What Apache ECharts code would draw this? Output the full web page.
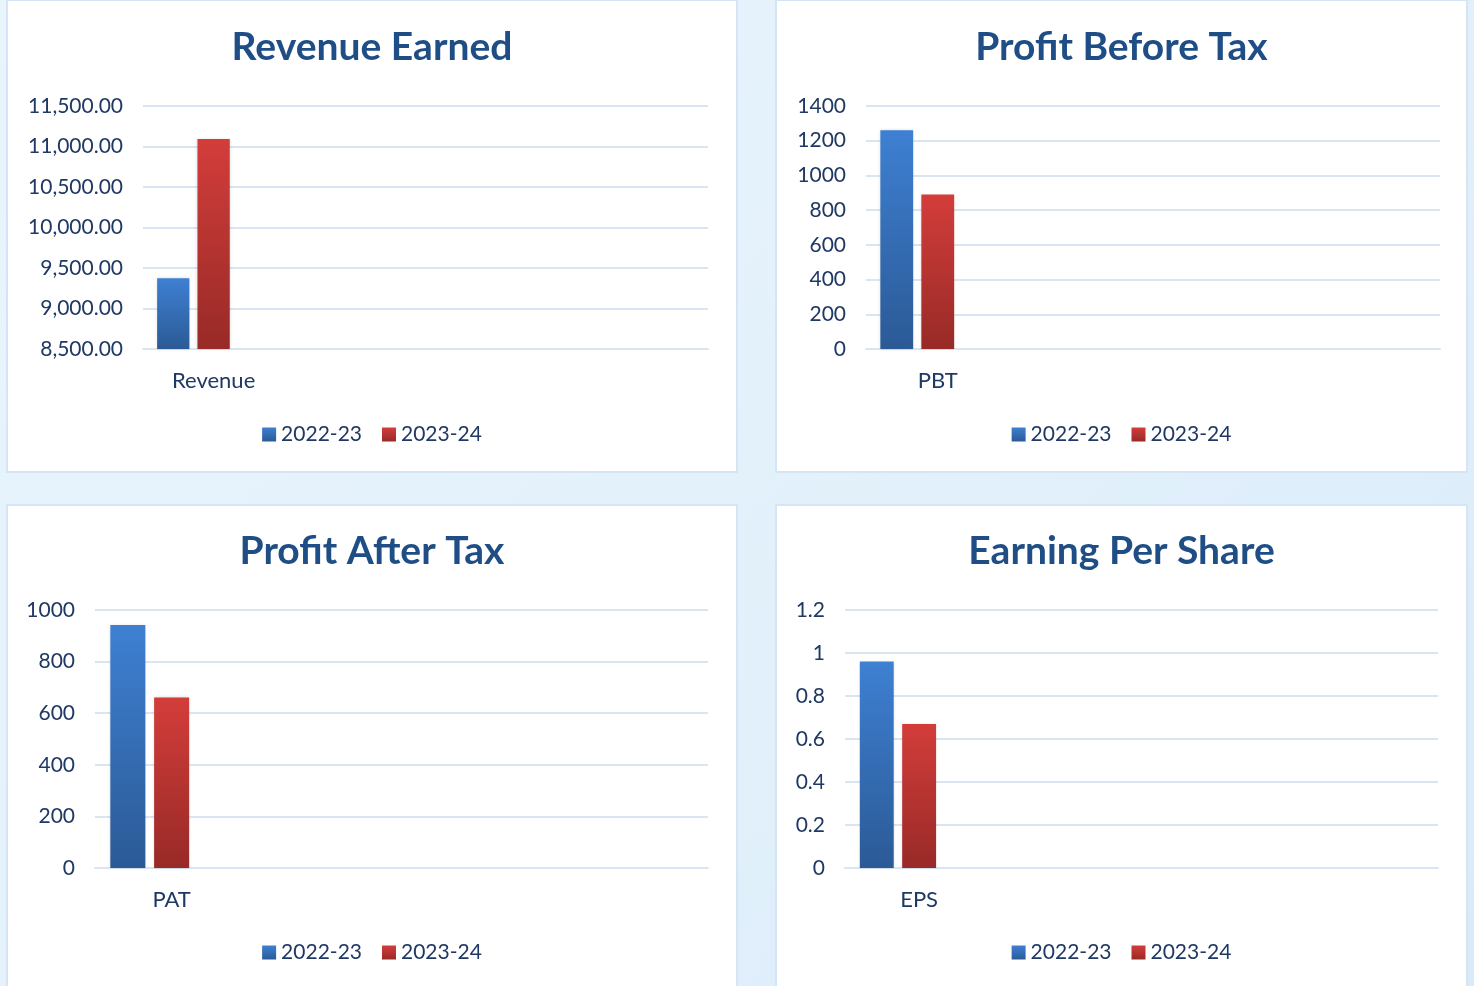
<!DOCTYPE html>
<html>
<head>
<meta charset="utf-8">
<script src="https://cdn.jsdelivr.net/npm/echarts@6/dist/echarts.min.js"></script>
<style>
  html, body { margin: 0; padding: 0; }
  body {
    width: 1474px; height: 986px; overflow: hidden; position: relative;
    background: linear-gradient(135deg, #e9f5fd 0%, #e3f1fb 50%, #d9ebf9 100%);
  }
  .card {
    position: absolute; background: #fff;
    border: 2px solid #d5e5f5; box-sizing: border-box;
  }
</style>
</head>
<body>
<div class="card" id="chartDom1" style="left:6px; top:-1px; width:732px; height:474px"></div>
<div class="card" id="chartDom2" style="left:775px; top:-1px; width:693px; height:474px"></div>
<div class="card" id="chartDom3" style="left:6px; top:504px; width:732px; height:500px"></div>
<div class="card" id="chartDom4" style="left:775px; top:504px; width:693px; height:500px"></div>
<script>
// 凡例（年度）
const years = ['2022-23', '2023-24']
// 各グラフのカテゴリ（空きスロット付き）
const revenueCats = ['Revenue', '', '', '']
const pbtCats = ['PBT', '', '', '']
const patCats = ['PAT', '', '', '']
const epsCats = ['EPS', '', '', '']
// 値  [2022-23, 2023-24]
const revenueVals = [9375, 11093]
const pbtVals = [1261, 890]
const patVals = [942, 661]
const epsVals = [0.96, 0.67]
// 縦軸 [min, max, interval]
const revenueAxis = [8500, 11500, 500]
const pbtAxis = [0, 1400, 200]
const patAxis = [0, 1000, 200]
const epsAxis = [0, 1.2, 0.2]

const textColor = '#1f3864'
const gridColor = '#d9e5f3'
const font = 'Lato, "Open Sans", sans-serif'

function grad(top, bottom) {
  return new echarts.graphic.LinearGradient(0, 0, 0, 1, [
    { offset: 0, color: top },
    { offset: 1, color: bottom }
  ])
}
const blue = grad('#3e80d2', '#2b5a96')
const red = grad('#d33d3a', '#982a27')

// 11,500.00 形式
function money(v) {
  const s = String(Math.round(v))
  return s.replace(/\B(?=(\d{3})+(?!\d))/g, ',') + '.00'
}
// そのまま表示（桁区切りなし）
function plain(v) {
  return String(v)
}

function makeOption(title, cats, vals, axis, g, legendTop, fmt) {
  const bar = (name, v, color) => ({
    name: name,
    type: 'bar',
    data: [v, null, null, null],
    barGap: '25%',
    barCategoryGap: '20%',
    itemStyle: { color: color, shadowBlur: 3, shadowColor: 'rgba(0,0,0,0.15)' }
  })
  return {
    animation: false,
    title: {
      text: title,
      left: 'center',
      top: g.titleTop,
      textStyle: { fontFamily: font, fontWeight: 'bold', fontSize: 39, color: '#1f4e86' }
    },
    legend: {
      data: years,
      top: legendTop,
      left: 'center',
      icon: 'rect',
      itemWidth: 14,
      itemHeight: 14,
      itemGap: 20,
      textStyle: { fontFamily: font, fontSize: 21, color: textColor }
    },
    grid: { left: g.left, right: g.right, top: g.top, bottom: g.bottom },
    xAxis: {
      type: 'category',
      data: cats,
      axisLine: { lineStyle: { color: gridColor, width: 2 } },
      axisTick: { show: false },
      axisLabel: { margin: 21, fontFamily: font, fontSize: 22, color: textColor }
    },
    yAxis: {
      type: 'value',
      min: axis[0],
      max: axis[1],
      interval: axis[2],
      axisLine: { show: false },
      axisTick: { show: false },
      splitLine: { lineStyle: { color: gridColor, width: 2 } },
      axisLabel: { margin: 20, fontFamily: font, fontSize: 21, color: textColor, formatter: fmt }
    },
    series: [
      bar(years[0], vals[0], blue),
      bar(years[1], vals[1], red),
      bar('', null, '#fff')
    ]
  }
}

const chart1 = echarts.init(document.getElementById('chartDom1'))
chart1.setOption(makeOption('Revenue Earned', revenueCats, revenueVals, revenueAxis,
  { left: 135, right: 28, top: 105, bottom: 122, titleTop: 22 }, 418, money))

const chart2 = echarts.init(document.getElementById('chartDom2'))
chart2.setOption(makeOption('Profit Before Tax', pbtCats, pbtVals, pbtAxis,
  { left: 89, right: 26, top: 105, bottom: 122, titleTop: 22 }, 418, plain))

const chart3 = echarts.init(document.getElementById('chartDom3'))
chart3.setOption(makeOption('Profit After Tax', patCats, patVals, patAxis,
  { left: 87, right: 28, top: 104, bottom: 134, titleTop: 21 }, 431, plain))

const chart4 = echarts.init(document.getElementById('chartDom4'))
chart4.setOption(makeOption('Earning Per Share', epsCats, epsVals, epsAxis,
  { left: 68, right: 28, top: 104, bottom: 134, titleTop: 21 }, 431, plain))
</script>
</body>
</html>
